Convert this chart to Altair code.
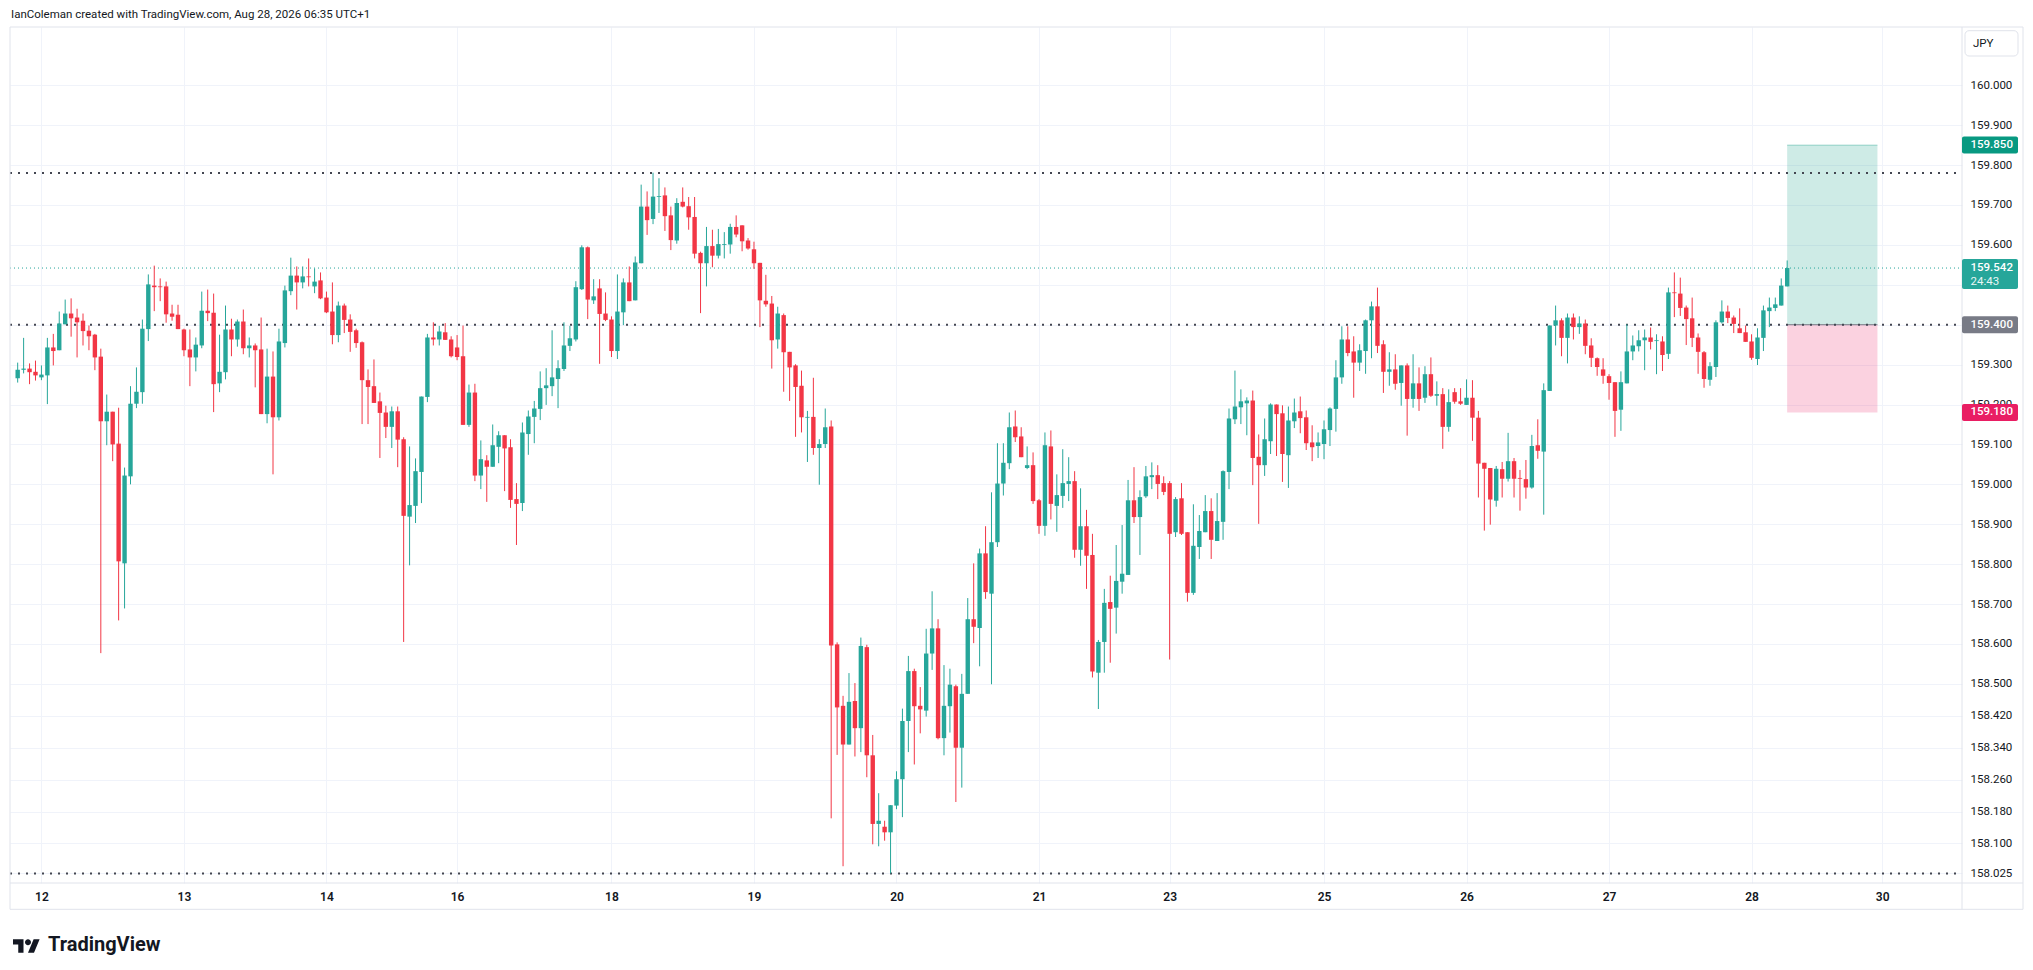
import altair as alt
import pandas as pd

# ---------------- data (USDJPY-like 1H candles) ----------------
open_ = [
159.266,159.287,159.290,159.282,159.268,159.273,159.343,159.336,159.401,159.428,
159.418,159.410,159.385,159.375,159.320,159.158,159.182,159.102,158.802,159.020,
159.202,159.231,159.389,159.498,159.496,159.496,159.428,159.425,159.388,159.338,
159.318,159.348,159.435,159.430,159.253,159.281,159.388,159.363,159.408,159.341,
159.348,159.338,159.176,159.270,159.168,159.354,159.484,159.523,159.506,159.521,
159.496,159.511,159.468,159.433,159.374,159.448,159.413,159.386,159.356,159.261,
159.246,159.208,159.180,159.144,159.183,159.113,158.919,158.946,159.031,159.219,
159.368,159.363,159.381,159.363,159.343,159.321,159.149,159.230,159.022,159.060,
159.044,159.094,159.123,159.093,158.963,158.953,159.126,159.169,159.189,159.241,
159.246,159.264,159.289,159.347,159.363,159.489,159.594,159.461,159.491,159.428,
159.413,159.334,159.431,159.506,159.461,159.554,159.696,159.665,159.720,159.724,
159.674,159.611,159.708,159.697,159.670,159.580,159.554,159.597,159.573,159.600,
159.601,159.645,159.649,159.611,159.589,159.555,159.460,159.453,159.363,159.424,
159.332,159.298,159.247,159.167,159.169,159.091,159.101,159.145,158.599,158.445,
158.348,158.457,158.389,158.592,158.321,158.149,158.142,158.128,158.195,158.261,
158.407,158.532,158.445,158.433,158.576,158.639,158.364,158.444,158.494,158.340,
158.475,158.662,158.640,158.827,158.726,158.855,159.002,159.053,159.145,159.120,
159.041,159.048,158.960,158.896,159.095,158.946,158.971,159.001,159.008,158.836,
158.895,158.823,158.528,158.605,158.705,158.691,158.756,158.773,158.960,158.918,
158.970,159.018,159.023,159.003,159.003,158.880,158.965,158.880,158.728,158.843,
158.880,158.933,158.858,158.906,159.031,159.163,159.193,159.203,159.210,159.069,
159.048,159.108,159.200,159.178,159.073,159.158,159.183,159.168,159.105,159.096,
159.101,159.136,159.189,159.268,159.363,159.333,159.305,159.334,159.411,159.446,
159.351,159.282,159.288,159.254,159.298,159.214,159.253,159.217,159.276,159.222,
159.226,159.144,159.231,159.208,159.199,159.217,159.167,159.054,159.041,158.959,
159.038,159.014,159.058,159.016,159.013,158.992,159.098,159.082,159.234,159.398,
159.411,159.367,159.418,159.394,159.403,159.348,159.316,159.288,159.271,159.256,
159.187,159.253,159.333,159.346,159.361,159.368,159.359,159.358,159.327,159.481,
159.478,159.443,159.416,159.368,159.331,159.262,159.294,159.406,159.433,159.418,
159.391,159.381,159.358,159.314,159.367,159.434,159.442,159.448,159.496]

high = [
159.305,159.367,159.303,159.310,159.298,159.367,159.377,159.433,159.463,159.466,
159.440,159.428,159.398,159.377,159.340,159.225,159.182,159.192,159.042,159.246,
159.293,159.413,159.526,159.548,159.516,159.508,159.450,159.450,159.390,159.388,
159.368,159.483,159.488,159.478,159.375,159.448,159.415,159.413,159.438,159.368,
159.353,159.418,159.340,159.333,159.390,159.498,159.568,159.546,159.546,159.566,
159.541,159.531,159.483,159.506,159.458,159.453,159.426,159.390,159.358,159.288,
159.313,159.230,159.197,159.195,159.195,159.118,159.095,159.065,159.220,159.377,
159.406,159.397,159.404,159.371,159.374,159.398,159.250,159.252,159.110,159.073,
159.150,159.133,159.123,159.113,159.003,159.155,159.185,159.209,159.283,159.291,
159.386,159.311,159.406,159.397,159.509,159.599,159.596,159.514,159.514,159.481,
159.421,159.526,159.516,159.546,159.571,159.751,159.734,159.781,159.767,159.744,
159.696,159.717,159.744,159.720,159.720,159.583,159.645,159.638,159.640,159.632,
159.653,159.674,159.649,159.617,159.608,159.555,159.525,159.472,159.445,159.428,
159.332,159.301,159.285,159.184,159.267,159.113,159.190,159.160,158.604,158.470,
158.527,158.502,158.616,158.598,158.372,158.226,158.157,158.196,158.281,158.438,
158.570,158.538,158.492,158.638,158.732,158.662,158.547,158.538,158.498,158.525,
158.715,158.802,158.839,158.895,158.980,159.103,159.103,159.180,159.185,159.143,
159.095,159.080,158.963,159.130,159.135,159.025,159.088,159.068,159.033,158.990,
158.936,158.876,158.610,158.738,158.771,158.848,158.898,159.011,159.043,158.985,
159.046,159.055,159.048,159.020,159.008,158.968,159.003,158.880,158.950,158.923,
158.973,158.965,158.978,159.035,159.190,159.285,159.238,159.218,159.235,159.125,
159.165,159.203,159.200,159.198,159.195,159.215,159.220,159.185,159.148,159.130,
159.160,159.193,159.311,159.396,159.396,159.371,159.351,159.413,159.458,159.493,
159.361,159.331,159.326,159.298,159.303,159.326,159.293,159.296,159.318,159.258,
159.241,159.238,159.241,159.241,159.263,159.261,159.184,159.054,159.041,159.046,
159.056,159.129,159.066,159.036,159.061,159.124,159.163,159.253,159.398,159.448,
159.416,159.428,159.428,159.421,159.413,159.366,159.318,159.316,159.276,159.256,
159.283,159.401,159.373,159.386,159.388,159.393,159.376,159.371,159.493,159.531,
159.518,159.448,159.468,159.378,159.334,159.306,159.411,159.461,159.448,159.423,
159.441,159.398,159.376,159.391,159.448,159.468,159.468,159.516,159.561]

low = [
159.255,159.278,159.251,159.260,159.261,159.201,159.298,159.336,159.401,159.370,
159.318,159.348,159.336,159.286,158.577,159.098,159.058,158.659,158.689,159.000,
159.191,159.202,159.359,159.434,159.459,159.405,159.410,159.389,159.321,159.246,
159.283,159.341,159.409,159.181,159.231,159.263,159.321,159.345,159.326,159.318,
159.243,159.176,159.153,159.025,159.160,159.343,159.474,159.438,159.491,159.496,
159.479,159.464,159.429,159.351,159.356,159.379,159.332,159.342,159.151,159.151,
159.204,159.066,159.116,159.091,159.043,158.605,158.797,158.903,158.953,159.206,
159.348,159.348,159.362,159.318,159.311,159.149,159.144,159.008,158.988,158.956,
159.044,159.053,158.983,158.941,158.848,158.933,159.074,159.103,159.161,159.199,
159.221,159.191,159.284,159.334,159.358,159.487,159.414,159.452,159.302,159.409,
159.319,159.314,159.399,159.459,159.461,159.554,159.625,159.652,159.680,159.635,
159.587,159.603,159.694,159.638,159.566,159.429,159.496,159.544,159.566,159.566,
159.578,159.619,159.584,159.588,159.540,159.394,159.445,159.290,159.340,159.232,
159.209,159.119,159.130,159.056,159.074,158.999,159.091,158.163,158.322,158.043,
158.348,158.318,158.329,158.266,158.098,158.093,158.107,158.025,158.186,158.166,
158.329,158.298,158.376,158.418,158.535,158.361,158.321,158.378,158.204,158.240,
158.475,158.602,158.544,158.713,158.499,158.843,158.972,159.038,159.106,159.068,
159.038,158.951,158.876,158.871,158.912,158.881,158.941,158.958,158.816,158.796,
158.738,158.516,158.437,158.528,158.553,158.626,158.726,158.773,158.903,158.823,
158.966,158.988,158.963,158.973,158.561,158.868,158.873,158.706,158.723,158.813,
158.880,158.813,158.858,158.861,158.988,159.151,159.151,159.123,158.998,158.901,
159.021,159.076,159.071,159.006,158.991,159.141,159.128,159.086,159.058,159.066,
159.063,159.096,159.132,159.252,159.321,159.217,159.284,159.277,159.316,159.329,
159.229,159.247,159.237,159.197,159.122,159.192,159.184,159.204,159.219,159.197,
159.089,159.132,159.202,159.199,159.199,159.109,158.967,158.884,158.899,158.944,
158.967,159.007,158.967,158.934,158.964,158.989,159.064,158.924,159.234,159.348,
159.321,159.303,159.363,159.377,159.326,159.294,159.272,159.252,159.212,159.119,
159.134,159.253,159.311,159.333,159.286,159.338,159.276,159.284,159.314,159.419,
159.422,159.349,159.344,159.277,159.242,159.247,159.269,159.403,159.404,159.379,
159.379,159.357,159.312,159.299,159.334,159.394,159.434,159.448,159.496]

close = [
159.287,159.290,159.281,159.273,159.275,159.343,159.334,159.403,159.428,159.416,
159.406,159.384,159.371,159.318,159.158,159.182,159.100,158.807,159.022,159.202,
159.232,159.390,159.501,159.494,159.494,159.426,159.420,159.389,159.336,159.318,
159.350,159.435,159.429,159.251,159.282,159.388,159.363,159.408,159.341,159.348,
159.336,159.176,159.270,159.168,159.358,159.486,159.523,159.506,159.521,159.519,
159.508,159.466,159.431,159.374,159.448,159.412,159.382,159.354,159.261,159.244,
159.204,159.179,159.144,159.183,159.112,158.921,158.948,159.033,159.220,159.368,
159.363,159.383,159.362,159.321,159.319,159.149,159.230,159.022,159.063,159.044,
159.098,159.123,159.090,158.961,158.951,159.130,159.170,159.190,159.241,159.248,
159.268,159.291,159.348,159.366,159.494,159.594,159.463,159.471,159.427,159.412,
159.334,159.433,159.506,159.459,159.556,159.696,159.662,159.721,159.722,159.672,
159.612,159.705,159.696,159.669,159.578,159.554,159.597,159.573,159.602,159.602,
159.645,159.626,159.609,159.591,159.554,159.461,159.451,159.361,159.428,159.331,
159.293,159.244,159.168,159.169,159.091,159.101,159.143,158.596,158.441,158.348,
158.455,158.389,158.595,158.321,158.149,158.157,158.128,158.196,158.261,158.407,
158.532,158.444,158.436,158.576,158.639,158.364,158.445,158.498,158.340,158.475,
158.662,158.643,158.827,158.730,158.855,159.002,159.054,159.143,159.118,159.068,
159.048,158.958,158.896,159.098,158.951,158.973,159.003,159.008,158.836,158.895,
158.821,158.531,158.605,158.703,158.688,158.758,158.776,158.960,158.918,158.968,
159.020,159.023,159.001,158.981,158.876,158.963,158.876,158.728,158.846,158.883,
158.933,158.861,158.908,159.033,159.165,159.195,159.208,159.210,159.066,159.048,
159.113,159.200,159.176,159.076,159.160,159.180,159.166,159.103,159.093,159.105,
159.138,159.190,159.268,159.363,159.329,159.305,159.336,159.411,159.446,159.347,
159.282,159.288,159.252,159.298,159.214,159.253,159.214,159.276,159.222,159.226,
159.144,159.206,159.207,159.202,159.217,159.167,159.052,159.039,158.962,159.039,
159.014,159.058,159.014,159.014,158.992,159.096,159.084,159.236,159.398,159.411,
159.367,159.418,159.394,159.403,159.347,159.317,159.294,159.272,159.254,159.184,
159.256,159.333,159.348,159.361,159.368,159.357,159.361,159.324,159.481,159.479,
159.442,159.414,159.367,159.332,159.264,159.296,159.406,159.433,159.417,159.402,
159.379,159.357,159.317,159.368,159.436,159.443,159.451,159.498,159.542]

candle_idx = list(range(len(close)))

day_idx = [4, 28, 52, 74, 100, 124, 148, 172, 194, 220, 244, 268, 292, 314]
day_labels = ["12", "13", "14", "16", "18", "19", "20", "21", "23", "25", "26", "27", "28", "30"]

price_ticks = [160.0, 159.9, 159.8, 159.7, 159.6, 159.5, 159.4, 159.3, 159.2, 159.1, 159.0,
               158.9, 158.8, 158.7, 158.6, 158.5, 158.42, 158.34, 158.26, 158.18, 158.1, 158.025]
hidden_tick_labels = [159.5, 159.4]

level_lines = [159.78, 159.40, 158.025]
current_price = close[-1]
countdown = "24:43"

position_idx = [298, 313.2]
target_price = 159.85
entry_price = 159.40
stop_price = 159.18

header_text = "IanColeman created with TradingView.com, Aug 28, 2026 06:35 UTC+1"
currency = "JPY"
brand = "TradingView"

# ---------------- styles ----------------
FONT = "Roboto"
TEXT = "#131722"
GRID = "#f0f3fa"
FRAME = "#e0e3eb"
UP = "#26a69a"
DOWN = "#f23645"
W, H = 1952, 856

X_SCALE = alt.Scale(domain=[-0.452, 326.6], nice=False, zero=False)
Y_SCALE = alt.Scale(domain=[158.001, 160.146], nice=False, zero=False)

x_expr = "".join(f"datum.value == {i} ? '{l}' : " for i, l in zip(day_idx, day_labels)) + "''"
hide_cond = " || ".join(f"abs(datum.value - {v}) < 0.000001" for v in hidden_tick_labels)
y_expr = f"({hide_cond}) ? '' : format(datum.value, '.3f')"

X_AXIS = alt.Axis(values=day_idx, labelExpr=x_expr, title=None, domain=False, ticks=False,
                  grid=True, gridColor=GRID, gridWidth=1, labelPadding=13, labelBaseline="middle",
                  labelFont=FONT, labelFontSize=12, labelFontWeight=600, labelColor=TEXT,
                  labelOverlap=False, labelFlush=False)
Y_AXIS = alt.Axis(orient="right", values=price_ticks, labelExpr=y_expr, title=None, domain=False,
                  ticks=False, grid=True, gridColor=GRID, gridWidth=1, labelPadding=8,
                  labelAlign="left", labelBaseline="middle", labelFont=FONT, labelFontSize=11.5,
                  labelColor=TEXT, labelOverlap=False, labelFlush=False, labelBound=False)


def X(f):
    return alt.X(f, scale=X_SCALE, axis=X_AXIS)


def Y(f):
    return alt.Y(f, scale=Y_SCALE, axis=Y_AXIS)


one = pd.DataFrame({"k": [0]})

df = pd.DataFrame({"i": candle_idx, "o": open_, "h": high, "l": low, "c": close})

# position box
profit = alt.Chart(pd.DataFrame({"x1": [position_idx[0]], "x2": [position_idx[1]],
                                 "y1": [entry_price], "y2": [target_price]})).mark_rect(
    color="#089981", opacity=0.2).encode(x=X("x1:Q"), x2="x2:Q", y=Y("y1:Q"), y2="y2:Q")
loss = alt.Chart(pd.DataFrame({"x1": [position_idx[0]], "x2": [position_idx[1]],
                               "y1": [stop_price], "y2": [entry_price]})).mark_rect(
    color="#e91e63", opacity=0.2).encode(x=X("x1:Q"), x2="x2:Q", y=Y("y1:Q"), y2="y2:Q")
profit_edge = alt.Chart(pd.DataFrame({"x1": [position_idx[0]], "x2": [position_idx[1]],
                                      "y": [target_price]})).mark_rule(
    color="#089981", opacity=0.35, strokeWidth=1).encode(x=X("x1:Q"), x2="x2:Q", y=Y("y:Q"))
entry_line = alt.Chart(pd.DataFrame({"x1": [position_idx[0]], "x2": [position_idx[1]],
                                     "y": [entry_price]})).mark_rule(
    color="#787b86", strokeWidth=1).encode(x=X("x1:Q"), x2="x2:Q", y=Y("y:Q"))

# horizontal levels
levels = alt.Chart(pd.DataFrame({"y": level_lines})).mark_rule(
    color="#434651", strokeWidth=2, strokeDash=[2, 6]).encode(
    y=Y("y:Q"), x=alt.value(0), x2=alt.value(W))
price_line = alt.Chart(pd.DataFrame({"y": [current_price]})).mark_rule(
    color=UP, strokeWidth=1, strokeDash=[1, 3]).encode(
    y=Y("y:Q"), x=alt.value(0), x2=alt.value(W))

# candles
cond_color = alt.condition("datum.c >= datum.o", alt.value(UP), alt.value(DOWN))
wicks = alt.Chart(df).mark_rule(strokeWidth=1).encode(
    x=X("i:Q"), y=Y("l:Q"), y2="h:Q", color=cond_color)
bodies = alt.Chart(df).mark_bar(size=4.4).encode(
    x=X("i:Q"), y=Y("o:Q"), y2="c:Q", color=cond_color)

# frame
frame_h = [(0, 0, W + 61), (H, 0, W + 61), (882.3, 0, W + 61)]
frame_v = [(0, 0, 882.3), (W, 0, 882.3), (W + 61, 0, 882.3)]
frame_layers = []
for yv, xa, xb in frame_h:
    frame_layers.append(alt.Chart(one).mark_rule(color=FRAME, strokeWidth=1).encode(
        y=alt.value(yv), x=alt.value(xa), x2=alt.value(xb)))
for xv, ya, yb in frame_v:
    frame_layers.append(alt.Chart(one).mark_rule(color=FRAME, strokeWidth=1).encode(
        x=alt.value(xv), y=alt.value(ya), y2=alt.value(yb)))

# price tags
tag_layers = []
for price, col in [(target_price, "#089981"), (entry_price, "#787b86"), (stop_price, "#e91e63")]:
    tdf = pd.DataFrame({"p": [price], "t": [f"{price:.3f}"]})
    tag_layers.append(alt.Chart(tdf).mark_rect(color=col, yOffset=-8.5, y2Offset=8.5,
                                               cornerRadius=2).encode(
        y=Y("p:Q"), y2="p:Q", x=alt.value(W), x2=alt.value(W + 56)))
    tag_layers.append(alt.Chart(tdf).mark_text(color="white", align="left", baseline="middle",
                                               font=FONT, fontSize=11.5, fontWeight=500).encode(
        y=Y("p:Q"), x=alt.value(W + 8.5), text="t:N"))
cdf = pd.DataFrame({"p": [current_price], "t": [f"{current_price:.3f}"], "cd": [countdown]})
tag_layers.append(alt.Chart(cdf).mark_rect(color=UP, yOffset=-9, y2Offset=21, cornerRadius=2).encode(
    y=Y("p:Q"), y2="p:Q", x=alt.value(W), x2=alt.value(W + 56)))
tag_layers.append(alt.Chart(cdf).mark_text(color="white", align="left", baseline="middle",
                                           font=FONT, fontSize=11.5, fontWeight=500).encode(
    y=Y("p:Q"), x=alt.value(W + 8.5), text="t:N"))
tag_layers.append(alt.Chart(cdf).mark_text(color="white", align="left", baseline="middle",
                                           font=FONT, fontSize=11.5, dy=14, opacity=0.9).encode(
    y=Y("p:Q"), x=alt.value(W + 8.5), text="cd:N"))

# currency box, header, brand
cur_box = alt.Chart(one).mark_rect(fill="white", stroke=FRAME, strokeWidth=1, cornerRadius=4).encode(
    x=alt.value(W + 3), x2=alt.value(W + 56), y=alt.value(3.7), y2=alt.value(29))
cur_txt = alt.Chart(one).mark_text(align="left", baseline="middle", font=FONT, fontSize=11.5,
                                   color=TEXT).encode(
    x=alt.value(W + 11), y=alt.value(17), text=alt.value(currency))
header = alt.Chart(one).mark_text(align="left", baseline="middle", font=FONT, fontSize=11.5,
                                  color=TEXT).encode(
    x=alt.value(1), y=alt.value(-12), text=alt.value(header_text))

LOGO = ("M-0.222,0.5L-0.611,0.5L-0.611,-0.111L-1,-0.111L-1,-0.5L-0.222,-0.5Z"
        "M0.556,0.5L0.111,0.5L0.528,-0.5L0.972,-0.5Z"
        "M-0.111,-0.278A0.222,0.222,0,1,0,0.333,-0.278A0.222,0.222,0,1,0,-0.111,-0.278Z")
logo = alt.Chart(one).mark_point(shape=LOGO, size=729, filled=True, color=TEXT, opacity=1,
                                 strokeWidth=0).encode(x=alt.value(16.5), y=alt.value(919))
brand_txt = alt.Chart(one).mark_text(align="left", baseline="middle", font=FONT, fontSize=20,
                                     fontWeight="bold", color=TEXT).encode(
    x=alt.value(38), y=alt.value(918), text=alt.value(brand))

chart = alt.layer(
    profit, loss, profit_edge, entry_line, levels, price_line, wicks, bodies,
    *frame_layers, *tag_layers, cur_box, cur_txt, header, logo, brand_txt
).properties(
    width=W, height=H,
    padding={"left": 2, "top": 19, "right": 62, "bottom": 75},
    autosize=alt.AutoSizeParams(type="none"),
    background="white",
).configure_view(stroke=None)

chart.save("out.html", embed_options={"renderer": "svg", "actions": False})
